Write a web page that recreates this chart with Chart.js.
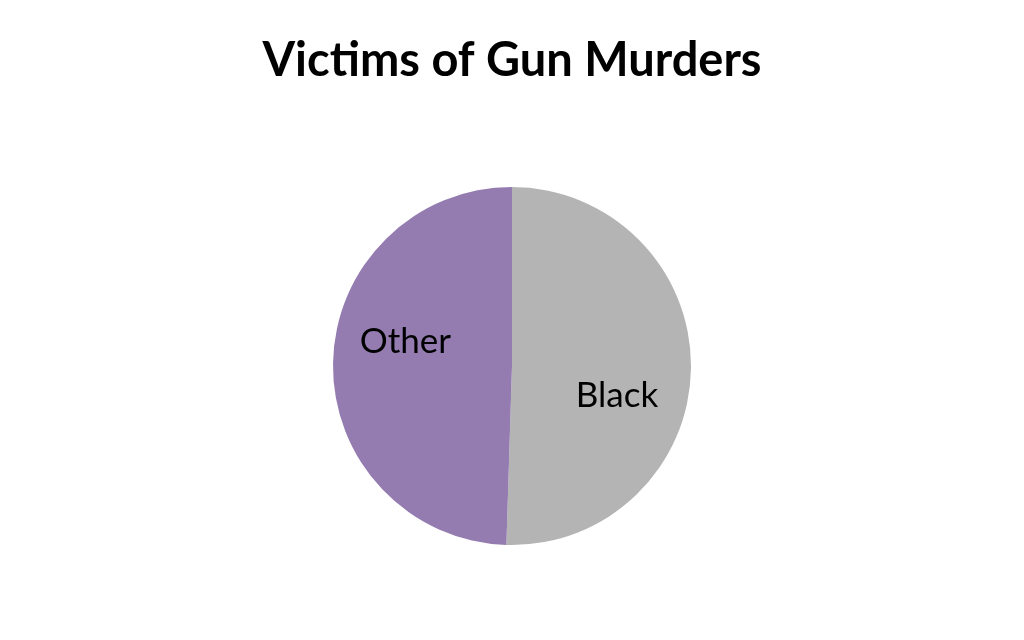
<!doctype html>
<html>

<head>
	<title>Victims of Gun Murders</title>
	<script src="https://cdn.jsdelivr.net/npm/chart.js@4/dist/chart.umd.min.js"></script>
	<style>
		html, body {
			margin: 0;
			padding: 0;
			background: #fff;
		}
		#wrap {
			width: 1024px;
			height: 640px;
		}
	</style>
</head>

<body>
	<div id="wrap">
		<canvas id="canvas"></canvas>
	</div>
	<script>
		const categories = ['Black', 'Other'];
		const shares = [50.5, 49.5];
		const sliceColors = ['#b4b4b4', '#947cb0'];

		// writes the category name inside each slice
		const sliceLabels = {
			id: 'sliceLabels',
			afterDatasetsDraw(chart, args, opts) {
				const ctx = chart.ctx;
				const meta = chart.getDatasetMeta(0);
				ctx.save();
				ctx.font = opts.font;
				ctx.fillStyle = opts.color;
				ctx.textAlign = 'center';
				ctx.textBaseline = 'middle';
				meta.data.forEach((arc, i) => {
					const p = arc.getProps(['x', 'y', 'startAngle', 'endAngle', 'outerRadius'], true);
					const mid = (p.startAngle + p.endAngle) / 2 + opts.shift[i] * Math.PI / 180;
					const r = p.outerRadius * opts.radius;
					ctx.fillText(chart.data.labels[i], p.x + Math.cos(mid) * r, p.y + Math.sin(mid) * r);
				});
				ctx.restore();
			}
		};

		const config = {
			type: 'pie',
			data: {
				labels: categories,
				datasets: [{
					data: shares,
					backgroundColor: sliceColors,
					borderWidth: 0
				}]
			},
			options: {
				responsive: true,
				maintainAspectRatio: false,
				animation: false,
				layout: {
					padding: { top: 0, bottom: 95, left: 0, right: 0 }
				},
				plugins: {
					legend: { display: false },
					tooltip: { enabled: false },
					title: {
						display: true,
						text: 'Victims of Gun Murders',
						color: '#000',
						font: { family: 'Lato', size: 47, weight: 'bold', lineHeight: 1.2 },
						padding: { top: 33, bottom: 97.6 }
					},
					sliceLabels: {
						font: '35px Lato',
						color: '#000',
						radius: 0.61,
						shift: [15, 11.7]
					}
				}
			},
			plugins: [sliceLabels]
		};

		window.onload = function() {
			const ctx = document.getElementById('canvas').getContext('2d');
			window.myPie = new Chart(ctx, config);
		};
	</script>
</body>

</html>
